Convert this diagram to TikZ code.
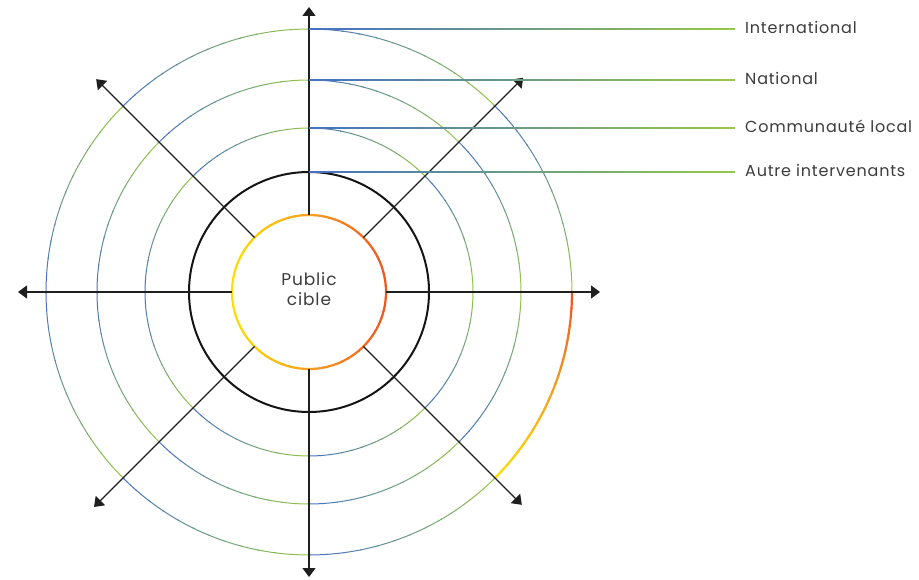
\documentclass[tikz,border=0pt]{standalone}
\usepackage{fontspec}
\setmainfont{Poppins}[LetterSpace=5]
\usetikzlibrary{arrows.meta}
\definecolor{cblue}{RGB}{68,112,196}
\definecolor{cgreen}{RGB}{150,200,70}
\definecolor{cyellow}{RGB}{250,225,0}
\definecolor{corange}{RGB}{246,160,30}
\definecolor{cred}{RGB}{240,85,30}
\definecolor{ctext}{RGB}{60,60,60}
\tikzset{
  axisline/.style={line width=1.3pt,draw=black!88,-{Triangle[width=13pt,length=9pt]}},
  lbl/.style={anchor=west,inner sep=0pt,font=\fontsize{16}{18}\selectfont,text=ctext},
  ringpiece/.style={line width=1pt},
}
\begin{document}
\begin{tikzpicture}[x=1pt,y=1pt]
\useasboundingbox (0,0) rectangle (919,579);
\coordinate (C) at (309,287);

% coloured rings (green/blue gradients per octant)
\foreach \r in {263,212,164} {
  \foreach \s in {0,...,7} {
    \foreach \k in {0,...,11} {
      \pgfmathsetmacro\a{\s*45+\k*3.75}
      \pgfmathsetmacro\b{\a+4.1}
      \pgfmathtruncatemacro\t{(\k+0.5)/12*100}
      \ifnum\s<4 \def\ca{cgreen}\def\cb{cblue}\else\def\ca{cblue}\def\cb{cgreen}\fi
      \draw[ringpiece,\cb!\t!\ca] (C) ++(\a:\r) arc[start angle=\a,end angle=\b,radius=\r];
    }
  }
}

% orange highlight on outer ring
\foreach \k in {0,...,23} {
  \pgfmathsetmacro\a{315+\k*1.875}
  \pgfmathsetmacro\b{\a+2.1}
  \pgfmathtruncatemacro\t{(\k+0.5)/24*200}
  \ifnum\t<100 \def\cc{corange!\t!cyellow}\else\pgfmathtruncatemacro\u{\t-100}\def\cc{cred!\u!corange}\fi
  \draw[line width=2.2pt,\cc] (C) ++(\a:263) arc[start angle=\a,end angle=\b,radius=263];
}

% black ring
\draw[line width=2pt,black!92] (C) circle[radius=120];

% inner gradient ring
\foreach \k in {0,...,71} {
  \pgfmathsetmacro\a{\k*5}
  \pgfmathsetmacro\b{\a+5.4}
  \pgfmathtruncatemacro\t{(cos(\a+2.5)+1)*100}
  \ifnum\t<100 \def\cc{corange!\t!cyellow}\else\pgfmathtruncatemacro\u{\t-100}\def\cc{cred!\u!corange}\fi
  \draw[line width=2.2pt,\cc] (C) ++(\a:77) arc[start angle=\a,end angle=\b,radius=77];
}

\node[circle,minimum size=154pt,inner sep=0pt,align=center,
      font=\fontsize{17}{20}\selectfont,text=ctext] (pc) at ([yshift=3pt]C) {Public\\cible};

% radial arrows
\foreach \ang/\len in {0/291,45/303,90/285,135/301,180/291,225/304,270/285,315/301} {
  \coordinate (e\ang) at ([shift={(\ang:\len)}]C);
  \draw[axisline] ([shift={(\ang:77)}]C) -- (e\ang);
}

% labels and leader lines
\foreach \name/\r/\txt in {lint/263/International,lnat/212/National,lcom/164/Communauté local,laut/120/Autre intervenants} {
  \coordinate (t\name) at ([shift={(90:\r)}]C);
  \node[lbl] (\name) at ([xshift=436pt,yshift=1.5pt]t\name) {\txt};
  \shade[left color=cblue,right color=cgreen]
    ([yshift=-0.5pt]t\name) rectangle ([xshift=-10pt,yshift=-1pt]\name.west);
}
\end{tikzpicture}
\end{document}
